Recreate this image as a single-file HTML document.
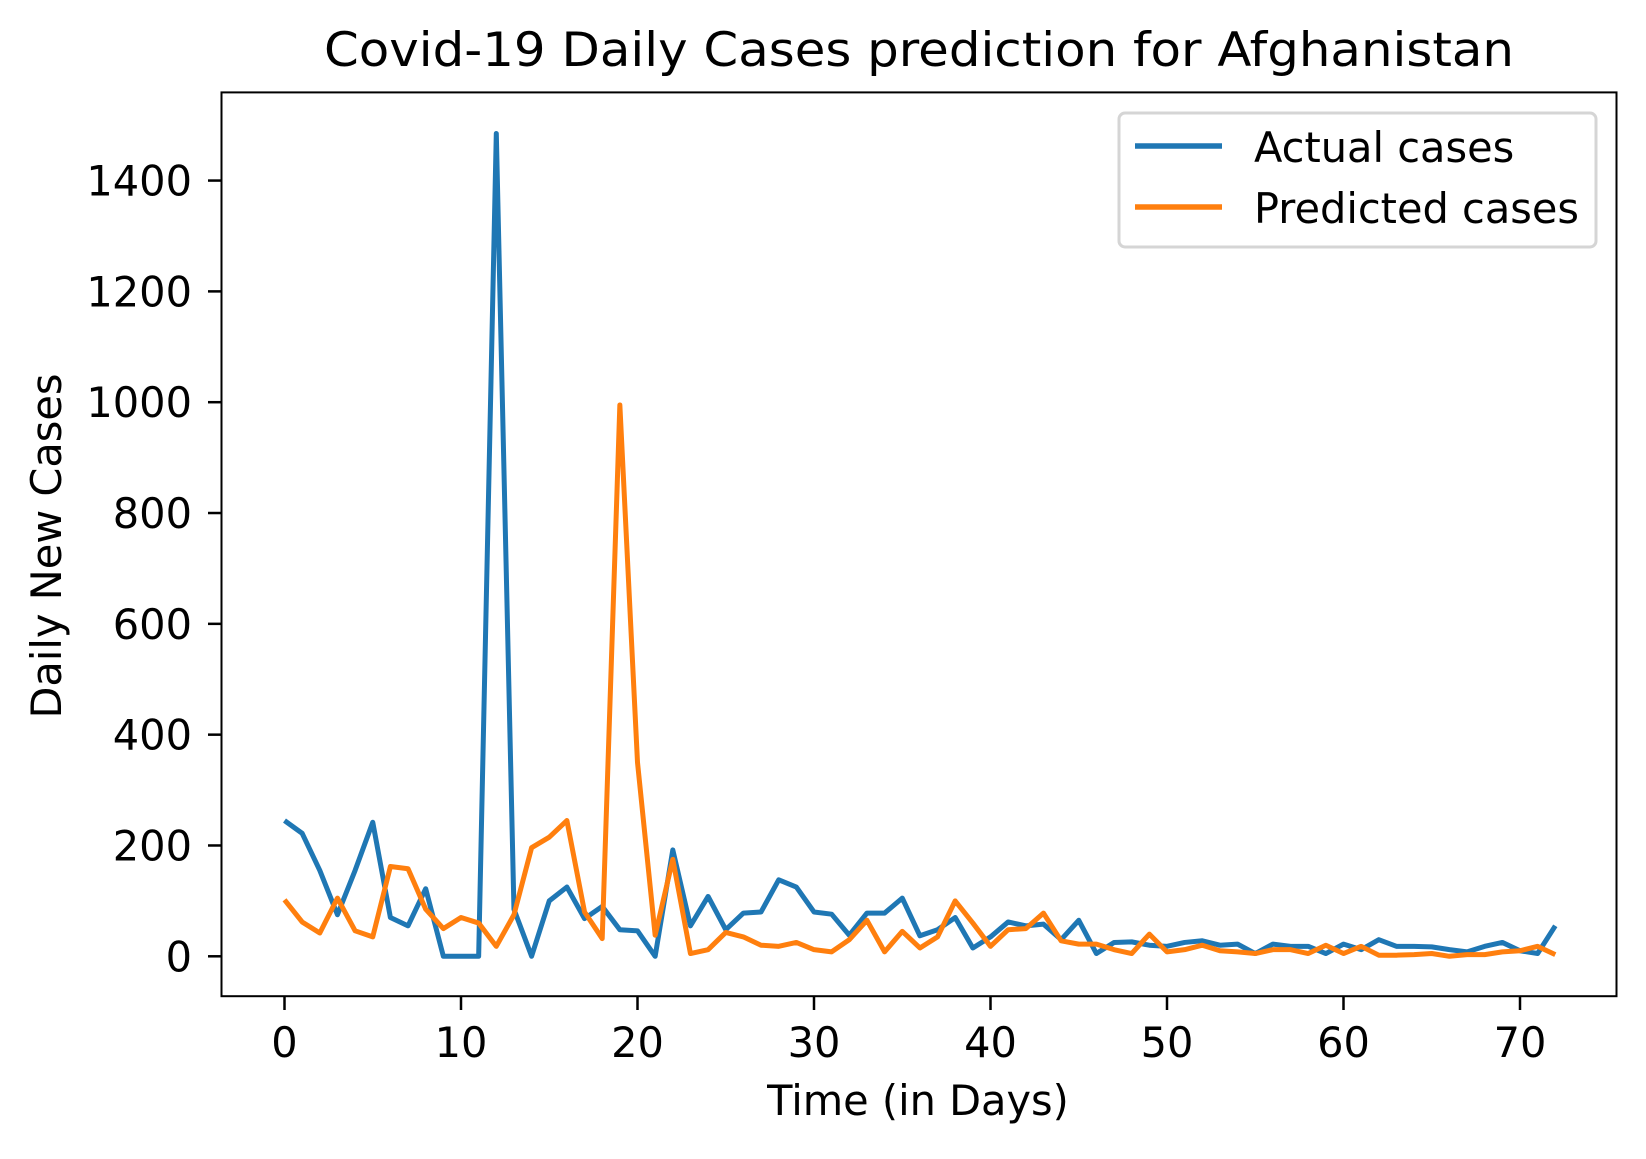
<!DOCTYPE html>
<html><head><meta charset="utf-8"><style>
body{margin:0;background:#fff}
svg text{font-family:"DejaVu Sans","Liberation Sans",sans-serif;fill:#000}
</style></head><body>
<svg id="chart" width="1646" height="1154" xmlns="http://www.w3.org/2000/svg">
<rect width="1646" height="1154" fill="#fff"/>
<text x="919" y="66" font-size="47" text-anchor="middle" textLength="1190" lengthAdjust="spacingAndGlyphs">Covid-19 Daily Cases prediction for Afghanistan</text>
<g id="plot"></g>
<rect x="221.5" y="92.4" width="1395" height="903.8" fill="none" stroke="#000" stroke-width="2"/>
<text x="918" y="1115" font-size="41.5" text-anchor="middle">Time (in Days)</text>
<text transform="translate(61,546) rotate(-90)" font-size="41.5" text-anchor="middle">Daily New Cases</text>
<g>
<rect x="1119" y="113" width="477" height="134" rx="6" fill="#fff" fill-opacity="0.8" stroke="#d5d5d5" stroke-width="3"/>
<line x1="1135" y1="146" x2="1222" y2="146" stroke="#1f77b4" stroke-width="5.5"/>
<text x="1254" y="162" font-size="41.5">Actual cases</text>
<line x1="1135" y1="207" x2="1222" y2="207" stroke="#ff7f0e" stroke-width="5.5"/>
<text x="1254" y="223" font-size="41.5">Predicted cases</text>
</g>
</svg>
<script>
const actual=[245,222,155,75,155,242,70,55,122,0,0,0,1485,85,0,100,125,68,90,48,46,0,192,55,108,48,78,80,138,125,80,76,38,78,78,105,37,48,70,15,35,62,55,58,30,65,5,25,26,20,18,25,28,20,22,5,22,18,18,5,22,12,30,18,18,17,12,8,18,25,10,5,55];
const predicted=[102,62,42,105,46,35,162,158,85,50,70,60,18,75,196,215,245,80,32,995,350,38,175,5,12,43,35,20,18,25,12,8,30,65,8,45,15,35,100,60,18,48,50,78,28,22,22,12,5,40,8,12,20,10,8,5,12,12,5,20,5,18,2,2,3,5,0,3,3,8,10,18,3];
const xTicks=[0,10,20,30,40,50,60,70];
const yTicks=[0,200,400,600,800,1000,1200,1400];
const NS="http://www.w3.org/2000/svg";
const X=d=>284.5+d*17.65;
const Y=v=>956.3-v*0.5541;
const g=document.getElementById('plot');
function mk(t,a){const e=document.createElementNS(NS,t);for(const k in a)e.setAttribute(k,a[k]);g.appendChild(e);return e;}
xTicks.forEach(t=>{
 const l=mk('line',{x1:X(t),x2:X(t),y1:996,y2:1010,stroke:'#000','stroke-width':2.5});
 
 
 const s=mk('text',{x:X(t),y:1057,'font-size':41.5,'text-anchor':'middle'});s.textContent=t;
 
 
});
yTicks.forEach(t=>{
 const l=mk('line',{x1:208,x2:221.5,y1:Y(t),y2:Y(t),stroke:'#000','stroke-width':2.5});
 
 
 const s=mk('text',{x:192,y:Y(t)+15,'font-size':41.5,'text-anchor':'end'});s.textContent=t;
 
 
});
function line(arr,color,name){
 const p=mk('polyline',{points:arr.map((v,i)=>X(i)+','+Y(v)).join(' '),fill:'none',stroke:color,'stroke-width':5,'stroke-linejoin':'round'});
 
 
}
line(actual,'#1f77b4','actual-cases-line');
line(predicted,'#ff7f0e','predicted-cases-line');
</script>
</body></html>
